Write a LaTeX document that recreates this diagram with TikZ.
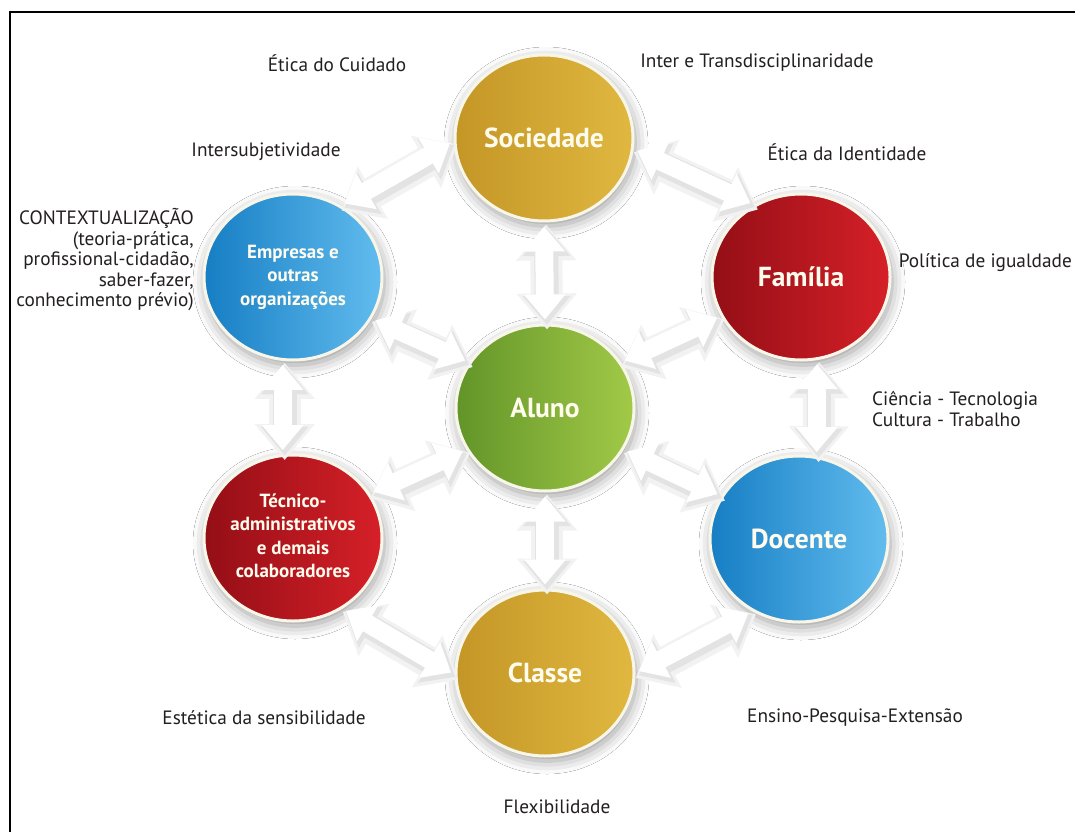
\documentclass[tikz,border=0pt]{standalone}
\usepackage{fontspec}
\setmainfont{PT Sans}
\usetikzlibrary{shapes.geometric,arrows.meta,shadows.blur}

\definecolor{goldL}{RGB}{196,150,38}
\definecolor{goldR}{RGB}{224,184,64}
\definecolor{redL}{RGB}{148,14,22}
\definecolor{redR}{RGB}{214,32,40}
\definecolor{blueL}{RGB}{22,126,196}
\definecolor{blueR}{RGB}{98,188,238}
\definecolor{greenL}{RGB}{98,148,40}
\definecolor{greenR}{RGB}{162,202,72}
\definecolor{ringc}{RGB}{248,246,232}
\definecolor{labc}{RGB}{35,31,32}
\definecolor{txtc}{RGB}{255,252,238}

\tikzset{
  orb/.style={ellipse, minimum width=178pt, minimum height=166pt, inner sep=0pt,
    draw=ringc, line width=3pt, text=txtc, align=center,
    blur shadow={shadow xshift=2pt, shadow yshift=-5pt, shadow blur radius=13pt, shadow opacity=40}},
  bigtxt/.style={font=\fontsize{27.5}{30}\bfseries\selectfont},
  smalltxt/.style={text=txtc, align=center, inner sep=0pt,
    font=\fontsize{19}{23.5}\bfseries\selectfont},
  goldf/.style={left color=goldL, right color=goldR},
  redf/.style={left color=redL, right color=redR},
  bluef/.style={left color=blueL, right color=blueR},
  greenf/.style={left color=greenL, right color=greenR},
  lab/.style={text=labc, font=\fontsize{19.3}{20.5}\selectfont, inner sep=0pt},
  barrow/.style={line width=18pt, draw=white,
    {Triangle[length=25pt,width=40pt]}-{Triangle[length=25pt,width=40pt]},
    shorten <=4pt, shorten >=4pt},
  glowA/.style={line width=32pt, draw=black!5,
    {Triangle[length=36pt,width=58pt]}-{Triangle[length=36pt,width=58pt]},
    shorten <=-2pt, shorten >=-2pt, transform canvas={shift={(2pt,-4pt)}}},
  glowB/.style={line width=24pt, draw=black!11,
    {Triangle[length=29pt,width=46pt]}-{Triangle[length=29pt,width=46pt]},
    shorten <=1.5pt, shorten >=1.5pt, transform canvas={shift={(2pt,-3pt)}}},
}

\begin{document}
\begin{tikzpicture}[x=1pt,y=-1pt]
\useasboundingbox (0,0) rectangle (1075,832);
\fill[white] (0,0) rectangle (1075,832);

% circles
\node[orb, goldf, bigtxt]  (soc) at (544,138) {Sociedade};
\node[orb, redf, bigtxt]   (fam) at (801,277) {Família};
\node[orb, bluef] (emp) at (293,277) {};
\node[smalltxt] (empt) at (emp.center) {Empresas e\\outras\\organizações};
\node[orb, greenf, bigtxt] (alu) at (545,408) {Aluno};
\node[orb, redf] (tec) at (293,538) {};
\node[smalltxt] (tect) at ([yshift=2pt]tec.center) {Técnico-\\administrativos\\e demais\\colaboradores};
\node[orb, bluef, bigtxt]  (doc) at (799,539) {Docente};
\node[orb, goldf, bigtxt]  (cla) at (545,673) {Classe};

% arrows: soft glow, shadow, white body
\foreach \s in {glowA,glowB,barrow}{
  \draw[\s] (soc.182) -- (emp.56);
  \draw[\s] (soc.-7) -- (fam.123);
  \draw[\s] (soc.270) -- (alu.90);
  \draw[\s] (emp.-28) -- (alu.149);
  \draw[\s] (fam.206) -- (alu.31);
  \draw[\s] (emp.263) -- (tec.97);
  \draw[\s] (fam.281) -- (doc.78);
  \draw[\s] (tec.30) -- (alu.208);
  \draw[\s] (alu.-28) -- (doc.151);
  \draw[\s] (alu.270) -- (cla.90);
  \draw[\s] (tec.-55) -- (cla.181);
  \draw[\s] (doc.237) -- (cla.0);
}

% frame
\draw[line width=1.8pt, black] (10,832) -- (10,12) -- (1075,12);

% labels
\node[lab] (l1) at (337,63) {Ética do Cuidado};
\node[lab] (l2) at (757,63) {Inter e Transdisciplinaridade};
\node[lab] (l3) at (266,152) {Intersubjetividade};
\node[lab] (l4) at (847,152) {Ética da Identidade};
\node[lab, anchor=east] (l5) at (1072,263) {Política de igualdade};
\node[lab, anchor=east, align=right] (l6) at (194,260)
  {CONTEXTUALIZAÇÃO\\(teoria-prática,\\profissional-cidadão,\\saber-fazer,\\conhecimento prévio)};
\node[lab, anchor=west, align=left] (l7) at (872,409) {Ciência - Tecnologia\\Cultura - Trabalho};
\node[lab] (l8) at (264,718) {Estética da sensibilidade};
\node[lab] (l9) at (855,718) {Ensino-Pesquisa-Extensão};
\node[lab] (l10) at (557,807) {Flexibilidade};
\end{tikzpicture}
\end{document}
